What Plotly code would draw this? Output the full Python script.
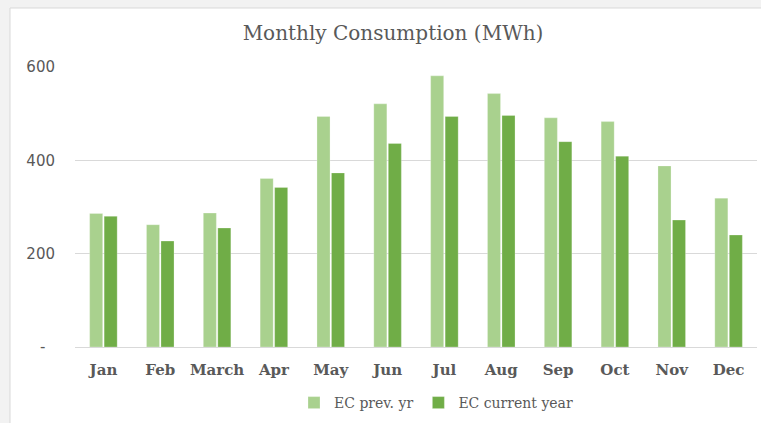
import plotly.graph_objects as go

months = ["Jan", "Feb", "March", "Apr", "May", "Jun", "Jul", "Aug", "Sep", "Oct", "Nov", "Dec"]
ec_prev = [286, 262, 287, 361, 494, 521, 581, 543, 491, 483, 388, 319]
ec_curr = [280, 227, 255, 342, 373, 436, 494, 496, 440, 409, 272, 240]
y_tickvals = [0, 200, 400, 600]
y_ticktext = ["-  ", "200", "400", "600"]

W, H = 761, 423
ml, mr, mt, mb = 75, 4, 67, 76
pw = W - ml - mr
ph = H - mt - mb

def px_x(p):
    return (p - ml) / pw

def px_y(p):
    return (H - mb - p) / ph

serif = "DejaVu Serif"
gray = "#595959"

fig = go.Figure()
fig.add_trace(go.Bar(x=months, y=ec_prev, name="EC prev. yr",
                     marker=dict(color="#A9D18E", line=dict(color="rgba(255,255,255,0.5)", width=0.5))))
fig.add_trace(go.Bar(x=months, y=ec_curr, name="EC current year",
                     marker=dict(color="#70AD47", line=dict(color="rgba(255,255,255,0.5)", width=0.5))))

fig.update_layout(
    width=W, height=H,
    margin=dict(l=ml, r=mr, t=mt, b=mb),
    paper_bgcolor="#F2F2F2",
    plot_bgcolor="white",
    barmode="group",
    bargap=0.49,
    bargroupgap=0.1,
    title=dict(text="Monthly Consumption (MWh)", x=px_x(393), xref="paper", xanchor="center",
               y=1 - 33 / H, yanchor="middle",
               font=dict(family=serif, size=20, color=gray)),
    legend=dict(orientation="h", x=px_x(436), xanchor="center", y=px_y(403), yanchor="middle",
                font=dict(family=serif, size=14, color=gray), bgcolor="rgba(0,0,0,0)",
                itemwidth=30, traceorder="normal"),
    shapes=[dict(type="rect", xref="paper", yref="paper", layer="below",
                 x0=px_x(10), x1=px_x(W + 5), y0=px_y(H + 5), y1=px_y(8),
                 fillcolor="white", line=dict(color="#D9D9D9", width=1))],
)
fig.update_xaxes(showgrid=False, showline=True, linecolor="#D9D9D9", linewidth=1,
                 tickfont=dict(family=serif, size=15, color=gray, weight="bold"),
                 ticks="", ticklabelstandoff=9)
fig.update_yaxes(range=[0, 600], tickvals=y_tickvals, ticktext=y_ticktext,
                 showgrid=True, gridcolor="#D9D9D9", gridwidth=1, zeroline=False,
                 tickfont=dict(family="DejaVu Sans", size=15, color=gray),
                 ticklabelstandoff=19)

fig.write_html("out.html", config={"displayModeBar": False},
               post_script="document.body.style.margin='0px';")
